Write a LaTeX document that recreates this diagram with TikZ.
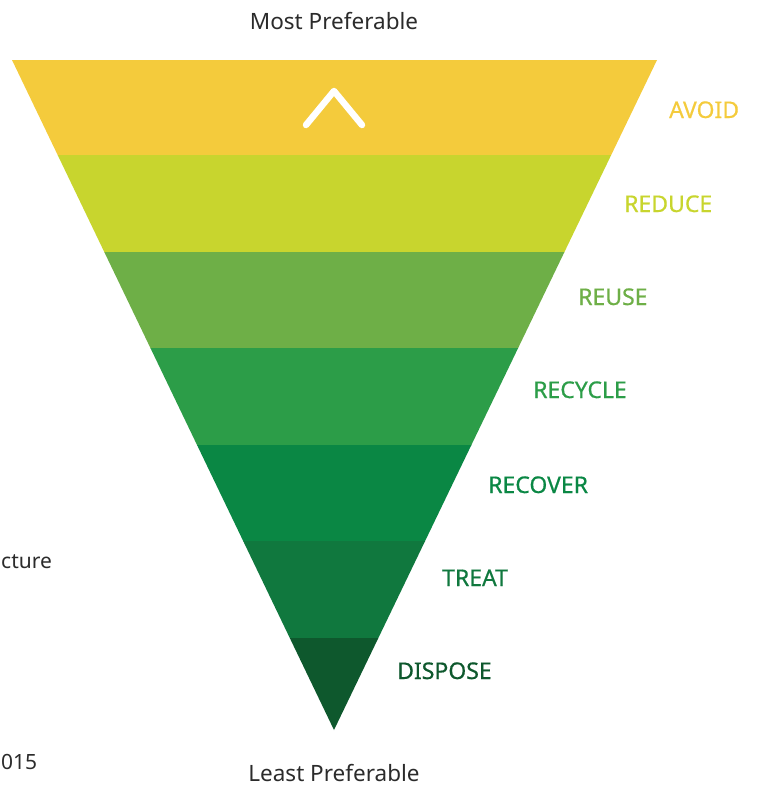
\documentclass[tikz,border=0pt]{standalone}
\usepackage{fontspec}
\setmainfont{Noto Sans}
\newfontfamily\labfont{Noto Sans}[FakeBold=0.6]
\definecolor{cAvoid}{HTML}{F4CB3C}
\definecolor{cReduce}{HTML}{C8D52E}
\definecolor{cReuse}{HTML}{6EAF47}
\definecolor{cRecycle}{HTML}{2C9D48}
\definecolor{cRecover}{HTML}{0A8744}
\definecolor{cTreat}{HTML}{10783E}
\definecolor{cDispose}{HTML}{0E582D}
\definecolor{cText}{HTML}{2B2B2B}
\begin{document}
\begin{tikzpicture}[x=1pt,y=-1pt,
  lab/.style={anchor=base west,font=\labfont\fontsize{23}{25}\selectfont,inner sep=0pt},
  captext/.style={anchor=base,font=\fontsize{22.5}{25}\selectfont,text=cText,inner sep=0pt},
  sidetext/.style={anchor=base west,font=\fontsize{21}{23}\selectfont,text=cText,inner sep=0pt}]
\useasboundingbox (0,0) rectangle (759,787);
\def\lx#1{\fpeval{12+322/670*(#1-60)}}
\def\rx#1{\fpeval{657-323/670*(#1-60)}}
\fill[cAvoid]   (\lx{60},60)   -- (\rx{60},60)   -- (\rx{155.5},155.5) -- (\lx{155.5},155.5) -- cycle;
\fill[cReduce]  (\lx{155},155) -- (\rx{155},155) -- (\rx{252.5},252.5) -- (\lx{252.5},252.5) -- cycle;
\fill[cReuse]   (\lx{252},252) -- (\rx{252},252) -- (\rx{348.5},348.5) -- (\lx{348.5},348.5) -- cycle;
\fill[cRecycle] (\lx{348},348) -- (\rx{348},348) -- (\rx{445.5},445.5) -- (\lx{445.5},445.5) -- cycle;
\fill[cRecover] (\lx{445},445) -- (\rx{445},445) -- (\rx{541.5},541.5) -- (\lx{541.5},541.5) -- cycle;
\fill[cTreat]   (\lx{541},541) -- (\rx{541},541) -- (\rx{638.5},638.5) -- (\lx{638.5},638.5) -- cycle;
\fill[cDispose] (\lx{638},638) -- (\rx{638},638) -- (334,730) -- cycle;
% chevron
\draw[white,line width=6.5pt,line cap=round,line join=round] (306,125) -- (334,91) -- (362,125);
% labels
\node[lab,text=cAvoid]   (avoid)   at (669,118) {AVOID};
\node[lab,text=cReduce]  (reduce)  at (624,212) {REDUCE};
\node[lab,text=cReuse]   (reuse)   at (578,305) {REUSE};
\node[lab,text=cRecycle] (recycle) at (533,398) {RECYCLE};
\node[lab,text=cRecover] (recover) at (488,493) {RECOVER};
\node[lab,text=cTreat]   (treat)   at (442,586) {TREAT};
\node[lab,text=cDispose] (dispose) at (397,679) {DISPOSE};
% captions
\node[captext] (most)  at (334,29)  {Most Preferable};
\node[captext] (least) at (334,781) {Least Preferable};
\node[sidetext] (cture) at (1,568) {cture};
\node[sidetext] (yr)    at (1,769) {015};
\end{tikzpicture}
\end{document}
